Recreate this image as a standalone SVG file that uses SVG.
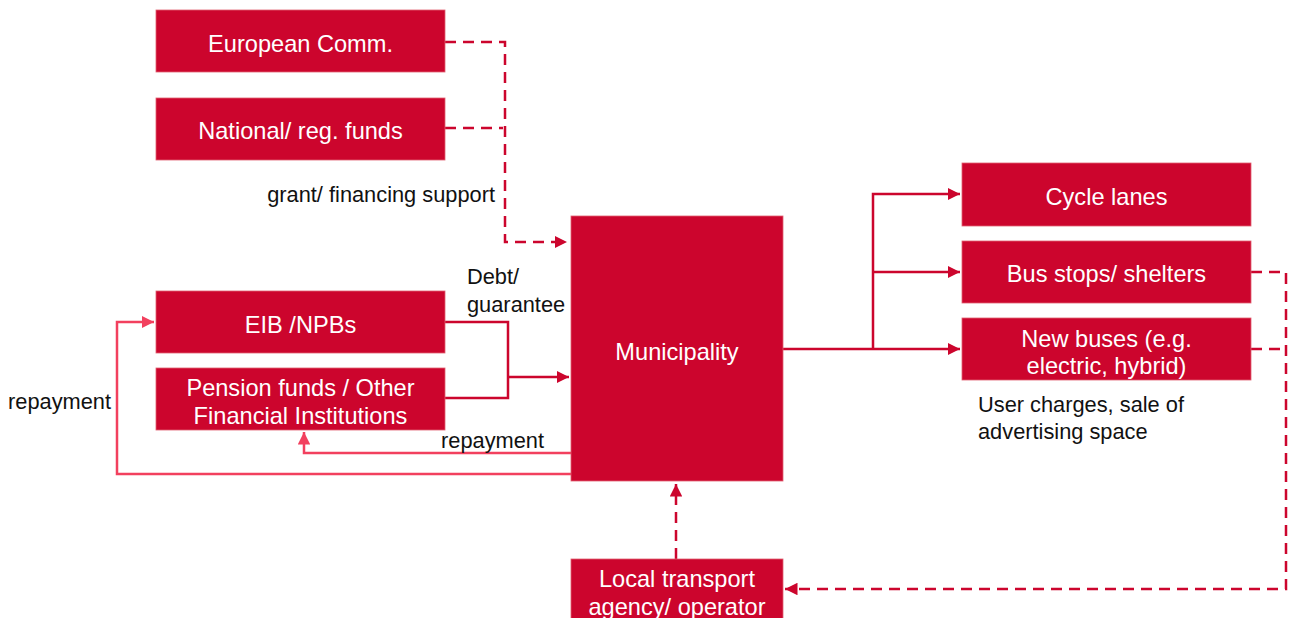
<svg xmlns="http://www.w3.org/2000/svg" width="1289" height="618" viewBox="0 0 1289 618">
<style>
.box{fill:#CC052D;stroke:#E06070;stroke-width:0.8}
.bt{font-family:"Liberation Sans",Arial,sans-serif;font-size:23.6px;fill:#fff;text-anchor:middle}
.lt{font-family:"Liberation Sans",Arial,sans-serif;font-size:21.8px;fill:#111}
.solid{fill:none;stroke:#CC052D;stroke-width:2.5}
.dash{fill:none;stroke:#CC052D;stroke-width:2.5;stroke-dasharray:11,7}
.rep{fill:none;stroke:#F2405E;stroke-width:2.5}
</style>
<defs>
<marker id="ah" viewBox="0 0 10 10" refX="10" refY="5" markerWidth="5" markerHeight="5" orient="auto" markerUnits="strokeWidth"><path d="M0,0 L10,5 L0,10 z" fill="#CC052D"/></marker>
<marker id="ahp" viewBox="0 0 10 10" refX="10" refY="5" markerWidth="5" markerHeight="5" orient="auto" markerUnits="strokeWidth"><path d="M0,0 L10,5 L0,10 z" fill="#F2405E"/></marker>
</defs>
<g id="connectors">
<path class="dash" d="M445,42 H505 V242 H567" marker-end="url(#ah)"/>
<path class="dash" d="M445,128 H503"/>
<path class="solid" d="M445,322 H508 V398 H445"/>
<path class="solid" d="M508,377 H569" marker-end="url(#ah)"/>
<path class="rep" d="M571,453 H304 V432" marker-end="url(#ahp)"/>
<path class="rep" d="M571,474 H117 V322 H154" marker-end="url(#ahp)"/>
<path class="solid" d="M783,349 H960" marker-end="url(#ah)"/>
<path class="solid" d="M873,349 V194 H960" marker-end="url(#ah)"/>
<path class="solid" d="M873,272 H960" marker-end="url(#ah)"/>
<path class="dash" d="M1251,272 H1286 V589 H785" marker-end="url(#ah)"/>
<path class="dash" d="M1251,349 H1284"/>
<path class="dash" d="M676,559 V484" marker-end="url(#ah)"/>
</g>
<g id="european-comm"><rect class="box" x="156" y="10" width="289" height="62"/><text class="bt" x="300.5" y="52">European Comm.</text></g>
<g id="national-funds"><rect class="box" x="156" y="98" width="289" height="62"/><text class="bt" x="300.5" y="139">National/ reg. funds</text></g>
<g id="eib"><rect class="box" x="156" y="291" width="289" height="62"/><text class="bt" x="300.5" y="333">EIB /NPBs</text></g>
<g id="pension"><rect class="box" x="156" y="368" width="289" height="62"/><text class="bt" x="300.5" y="396">Pension funds / Other</text><text class="bt" x="300.5" y="424">Financial Institutions</text></g>
<g id="municipality"><rect class="box" x="571" y="216" width="212" height="265"/><text class="bt" x="677" y="360">Municipality</text></g>
<g id="local-transport"><rect class="box" x="571" y="559" width="212" height="70"/><text class="bt" x="677" y="587">Local transport</text><text class="bt" x="677" y="615">agency/ operator</text></g>
<g id="cycle-lanes"><rect class="box" x="962" y="163" width="289" height="63"/><text class="bt" x="1106.5" y="205">Cycle lanes</text></g>
<g id="bus-stops"><rect class="box" x="962" y="241" width="289" height="62"/><text class="bt" x="1106.5" y="282">Bus stops/ shelters</text></g>
<g id="new-buses"><rect class="box" x="962" y="318" width="289" height="62"/><text class="bt" x="1106.5" y="347">New buses (e.g.</text><text class="bt" x="1106.5" y="374">electric, hybrid)</text></g>
<g id="labels">
<text class="lt" x="495" y="202" text-anchor="end">grant/ financing support</text>
<text class="lt" x="467" y="284">Debt/</text>
<text class="lt" x="467" y="312">guarantee</text>
<text class="lt" x="441" y="448">repayment</text>
<text class="lt" x="8" y="409">repayment</text>
<text class="lt" x="978" y="412">User charges, sale of</text>
<text class="lt" x="978" y="439">advertising space</text>
</g>
</svg>
